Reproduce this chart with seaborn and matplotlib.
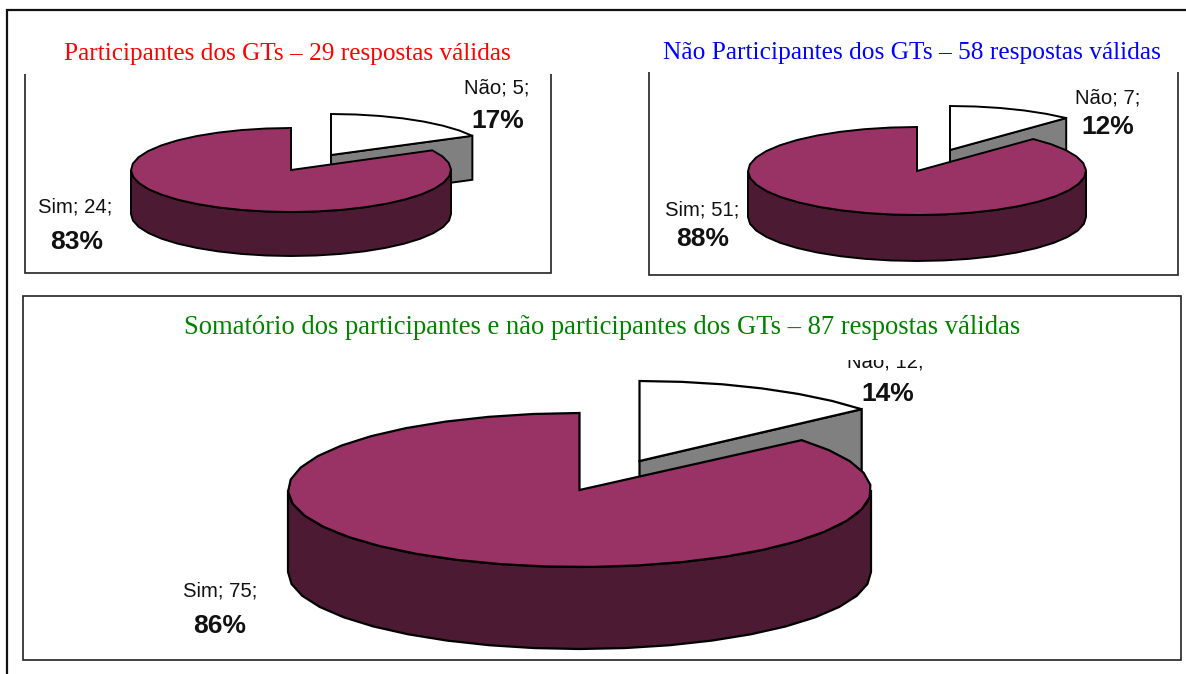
import numpy as np
import matplotlib
matplotlib.use("Agg")
import matplotlib.pyplot as plt
from matplotlib.patches import Rectangle
import seaborn as sns

# ---- data ----
categories = ["Sim", "Não"]
participantes = [24, 5]
nao_participantes = [51, 7]
somatorio = [75, 12]
titles = [
    "Participantes dos GTs – 29 respostas válidas",
    "Não Participantes dos GTs – 58 respostas válidas",
    "Somatório dos participantes e não participantes dos GTs – 87 respostas válidas",
]
title_colors = ["#FF0000", "#0000FF", "#008000"]

# ---- style ----
sns.set_theme(style="white")
purple, dark, grey, white = sns.color_palette(["#993366", "#4D1A33", "#808080", "#FFFFFF"])
SERIF = "Liberation Serif"
SANS = "Liberation Sans"

fig, ax = plt.subplots(figsize=(11.86, 6.74), dpi=100)
ax.set_position([0, 0, 1, 1])
ax.set_xlim(0, 1186)
ax.set_ylim(674, 0)
ax.axis("off")


def rim(cx, cy, a, b, start, stop, step=9.0):
    """Faceted ellipse points, angles clockwise from 12 o'clock, in degrees."""
    n = max(int(round((stop - start) / step)) + 1, 2)
    t = np.radians(np.linspace(start, stop, n))
    return cx + a * np.sin(t), cy - b * np.cos(t)


def pie3d(values, cx, cy, a, b, depth, dx, dy, b_small, lw):
    total = sum(values)
    sweep = 360 * values[1] / total
    ox, oy = cx + dx, cy + dy
    # exploded small slice: cut wall, then top
    xr, yr = rim(ox, oy, a, b_small, 0, sweep)
    ax.fill([ox, xr[-1], xr[-1], ox], [oy, yr[-1], yr[-1] + depth, oy + depth],
            fc=grey, ec="black", lw=lw, zorder=2)
    ax.fill(np.r_[ox, xr], np.r_[oy, yr], fc=white, ec="black", lw=lw, zorder=3)
    # big slice: side wall, then top
    xs, ys = rim(cx, cy, a, b, 90, 270)
    ax.fill(np.r_[xs, xs[::-1]], np.r_[ys, ys[::-1] + depth],
            fc=dark, ec="black", lw=lw, zorder=4)
    xt, yt = rim(cx, cy, a, b, sweep, 360)
    ax.fill(np.r_[cx, xt], np.r_[cy, yt], fc=purple, ec="black", lw=lw, zorder=5)


def frame(x0, y0, x1, y1):
    ax.add_patch(Rectangle((x0, y0), x1 - x0, y1 - y0, fc="white", ec="#222222", lw=1.2, zorder=1))


def labels(values, sim_xy, sim_pct_xy, nao_xy, nao_pct_xy):
    total = sum(values)
    for name, v, xy, pxy in ((categories[0], values[0], sim_xy, sim_pct_xy),
                             (categories[1], values[1], nao_xy, nao_pct_xy)):
        ax.text(*xy, f"{name}; {v};", family=SANS, fontsize=14.6, color="#111111",
                ha="center", va="center", zorder=6)
        ax.text(*pxy, f"{100 * v / total:.0f}%", family=SANS, fontsize=19, fontweight="bold",
                color="#111111", ha="center", va="center", zorder=6)


# outer border (runs off the right and bottom of the page)
ax.plot([7, 7, 1186], [674, 10, 10], color="#111111", lw=1.6, zorder=1, solid_joinstyle="miter")

frame(25, 60, 551, 273)
frame(649, 60, 1178, 275)
frame(23, 296, 1181, 660)

pie3d(participantes, 291, 170, 160, 42, 44, 40, -15, 41, 1.4)
pie3d(nao_participantes, 917, 171, 169, 44, 46, 33, -21, 44, 1.4)
pie3d(somatorio, 579.5, 490, 291.5, 77, 82, 60, -29, 80, 1.6)

labels(participantes, (75, 207), (77, 242), (497, 88), (498, 121))
labels(nao_participantes, (702, 210), (703, 239), (1108, 98), (1108, 127))
labels(somatorio, (220, 591), (220, 626), (885, 362), (888, 394))

# white title boxes hide the top of each chart frame and clip the label under them
for x0, y0, x1, y1 in ((15, 40, 570, 74), (640, 40, 1183, 72), (100, 298, 1100, 360)):
    ax.add_patch(Rectangle((x0, y0), x1 - x0, y1 - y0, fc="white", ec="none", zorder=7))

for title, color, xy, size in zip(titles, title_colors, ((287, 54), (912, 52.5), (602.5, 327)),
                                  (18.2, 18.3, 19.2)):
    ax.text(*xy, title, family=SERIF, fontsize=size, color=color, ha="center", va="center", zorder=8)

fig.savefig("out.png", dpi=100)
